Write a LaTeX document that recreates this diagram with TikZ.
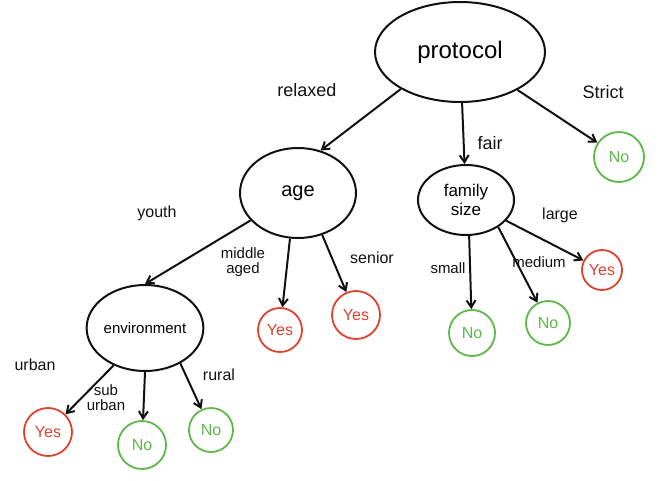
\documentclass[tikz,border=0pt]{standalone}
\usepackage{fontspec}
\setmainfont{Liberation Sans}
\usetikzlibrary{arrows.meta,positioning,shapes.geometric}
\definecolor{ink}{HTML}{111111}
\definecolor{yesred}{HTML}{E0402E}
\definecolor{nogreen}{HTML}{5DB84A}

\begin{document}
\begin{tikzpicture}[x=1pt,y=-1pt,>={Straight Barb[length=7pt,width=9pt]},
  split/.style={draw=ink,line width=2pt,ellipse,inner sep=0pt,font=\fontsize{17}{19}\selectfont},
  yesleaf/.style={draw=yesred,line width=1.8pt,circle,inner sep=0pt,text=yesred,font=\fontsize{16}{18}\selectfont},
  noleaf/.style={draw=nogreen,line width=1.8pt,circle,inner sep=0pt,text=nogreen,font=\fontsize{16}{18}\selectfont},
  branch/.style={font=\fontsize{15}{15}\selectfont,align=center,text=ink},
  link/.style={->,draw=ink,line width=2pt}]
\useasboundingbox (0,0) rectangle (672,480);
% splits
\node[split,minimum width=170pt,minimum height=100pt,font=\fontsize{24}{26}\selectfont] (protocol) at (460,52) {protocol};
\node[split,minimum width=116pt,minimum height=90pt,font=\fontsize{20}{22}\selectfont] (age) at (298,193) {age};
\node[split,minimum width=96pt,minimum height=70pt,align=center] (family) at (466,200) {family\\size};
\node[split,minimum width=110pt,minimum height=86pt,font=\fontsize{15}{17}\selectfont] (env) at (145,328) {environment};
% leaves
\node[noleaf,minimum size=50pt] (nostrict) at (619,157) {No};
\node[yesleaf,minimum size=44pt] (yesmid) at (280,330) {Yes};
\node[yesleaf,minimum size=48pt] (yessenior) at (356,315) {Yes};
\node[noleaf,minimum size=46pt] (nosmall) at (472,333) {No};
\node[noleaf,minimum size=44pt] (nomedium) at (548,323) {No};
\node[yesleaf,minimum size=40pt] (yeslarge) at (602,270) {Yes};
\node[yesleaf,minimum size=48pt] (yesurban) at (48,432) {Yes};
\node[noleaf,minimum size=48pt] (nosuburban) at (142,445) {No};
\node[noleaf,minimum size=44pt] (norural) at (211,430) {No};
% branch labels
\node[branch,font=\fontsize{18}{18}\selectfont] (relaxed) at (307,90) {relaxed};
\node[branch,font=\fontsize{18}{18}\selectfont] (fair) at (490,143) {fair};
\node[branch,font=\fontsize{18}{18}\selectfont] (strict) at (603,92) {Strict};
\node[branch,font=\fontsize{16}{16}\selectfont] (youth) at (157,213) {youth};
\node[branch] (middle) at (243,262) {middle\\aged};
\node[branch,font=\fontsize{16}{16}\selectfont] (senior) at (372,258) {senior};
\node[branch] (small) at (448,268) {small};
\node[branch] (medium) at (539,262) {medium};
\node[branch,font=\fontsize{16}{16}\selectfont] (large) at (560,215) {large};
\node[branch,font=\fontsize{16}{16}\selectfont] (urban) at (35,365) {urban};
\node[branch] (suburban) at (106,398) {sub\\urban};
\node[branch,font=\fontsize{16}{16}\selectfont] (rural) at (219,375) {rural};
% edges
\draw[link] (protocol.212) -- (age.62);
\draw[link] (protocol) -- (family);
\draw[link] (protocol) -- (nostrict);
\draw[link] (age.210) -- (env.north);
\draw[link] (age.-100) -- (yesmid);
\draw[link] (age.-60) -- (yessenior);
\draw[link] (family.-85) -- (nosmall);
\draw[link] (family.-40) -- (nomedium);
\draw[link] (family) -- (yeslarge);
\draw[link] (env.-130) -- (yesurban);
\draw[link] (env.-90) -- (nosuburban);
\draw[link] (env.-45) -- (norural);
\end{tikzpicture}
\end{document}
